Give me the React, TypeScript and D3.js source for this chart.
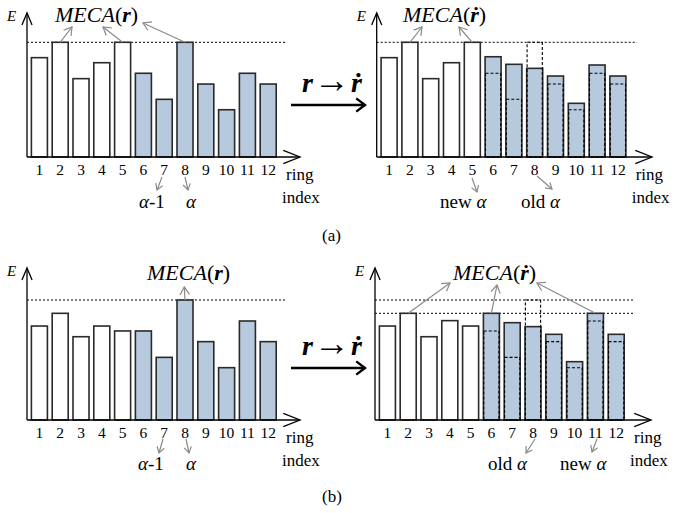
import React from 'react';
import { scaleBand, scaleLinear } from 'd3';

// ring indices on the x axis
const rings = [1, 2, 3, 4, 5, 6, 7, 8, 9, 10, 11, 12];

// energy per ring, 100 = MECA level of the old radius vector
const energyA = [86.6, 100, 68.3, 82.2, 100, 73, 50.3, 100, 63.6, 41.2, 73, 63.6];
const energyADot = [86.6, 100, 68.3, 82.2, 100, 87.4, 80.8, 77.3, 70.6, 46.8, 80.2, 70.6];
const energyB = [78.3, 88.9, 69.4, 78.3, 74.2, 74.2, 52.2, 100, 65.3, 43.6, 82.5, 65.3];
const energyBDot = [78.3, 88.9, 69.4, 82.8, 78.3, 88.9, 81.1, 77.8, 71.4, 48.6, 88.9, 71.4];

// rings that are shaded (from this index on)
const shadedFrom = 6;

const serif = 'Liberation Serif';
const GRAY = '#8a8a8a';
const BLUE = '#b7c9dc';

const Arrow = ({ x1, y1, x2, y2, color = GRAY, w = 1.2, head = 7, spread = 0.55 }) => {
  const a = Math.atan2(y2 - y1, x2 - x1);
  const p1 = [x2 - head * Math.cos(a - spread), y2 - head * Math.sin(a - spread)];
  const p2 = [x2 - head * Math.cos(a + spread), y2 - head * Math.sin(a + spread)];
  return (
    <g stroke={color} strokeWidth={w} fill="none">
      <line x1={x1} y1={y1} x2={x2} y2={y2} />
      <polyline points={`${p1[0]},${p1[1]} ${x2},${y2} ${p2[0]},${p2[1]}`} />
    </g>
  );
};

const Meca = ({ x, y, dot }) => (
  <text x={x} y={y} style={{ fontFamily: serif }} fontSize={22} fontStyle="italic">
    MECA
    <tspan fontStyle="normal">(</tspan>
    <tspan fontWeight="bold">{dot ? '\u1E59' : 'r'}</tspan>
    <tspan fontStyle="normal">)</tspan>
  </text>
);

const Panel = ({ ax, base, topY, axisTop, xEnd, lineEnd, values, oldValues, levels, meca, mecaFrom, mecaTo, dot }) => {
  const x = scaleBand()
    .domain(rings)
    .range([ax + 2, ax + 2 + 12 * 20.8])
    .paddingInner(0.23)
    .paddingOuter(0.115);
  const y = scaleLinear().domain([0, 100]).range([base, topY]);
  const bw = x.bandwidth();
  return (
    <g style={{ fontFamily: serif }}>
      {levels.map((v, i) => (
        <line key={i} x1={ax} x2={lineEnd} y1={y(v)} y2={y(v)} stroke="#000" strokeWidth={1} strokeDasharray="2,2" />
      ))}
      {rings.map((r, i) => (
        <rect
          key={r}
          x={x(r)}
          y={y(values[i])}
          width={bw}
          height={base - y(values[i])}
          fill={r >= shadedFrom ? BLUE : '#fff'}
          stroke="#2a2a2a"
          strokeWidth={1.6}
        />
      ))}
      {oldValues &&
        rings.map((r, i) =>
          r >= shadedFrom && oldValues[i] !== values[i] ? (
            <rect
              key={'o' + r}
              x={x(r) + 0.4}
              y={y(oldValues[i])}
              width={bw - 0.8}
              height={base - y(oldValues[i])}
              fill="none"
              stroke="#000"
              strokeWidth={1.1}
              strokeDasharray="3,2"
            />
          ) : null
        )}
      {/* axes */}
      <Arrow x1={ax} y1={base} x2={ax} y2={axisTop} color="#000" w={1.3} head={13} spread={0.4} />
      <Arrow x1={ax} y1={base} x2={xEnd} y2={base} color="#000" w={1.3} head={18} spread={0.38} />
      <text x={ax - 20} y={axisTop + 8} fontSize={15} fontStyle="italic">E</text>
      {rings.map((r) => (
        <text key={'t' + r} x={x(r) + bw / 2} y={base + 18} textAnchor="middle" fontSize={15.5}>
          {r}
        </text>
      ))}
      <text x={ax + 259} y={base + 23} fontSize={17}>ring</text>
      <text x={ax + 255} y={base + 46} fontSize={17}>index</text>
      <Meca x={meca[0]} y={meca[1]} dot={dot} />
      {mecaFrom.map((r, i) => (
        <Arrow key={'m' + r} x1={x(r) + bw / 2} y1={y(values[r - 1])} x2={mecaTo[i][0]} y2={mecaTo[i][1]} head={9} />
      ))}
    </g>
  );
};

const BigArrow = ({ dy }) => (
  <g>
    <text x={302} y={92 + dy} style={{ fontFamily: serif }} fontSize={28} fontWeight="bold" fontStyle="italic">
      r
      <tspan dx={1} fontStyle="normal" fontWeight="normal" fontSize={36}>{'\u2192'}</tspan>
      <tspan dx={1}>{'\u1E59'}</tspan>
    </text>
    <Arrow x1={291} y1={105 + dy} x2={365} y2={105 + dy} color="#000" w={2.4} head={11} spread={0.65} />
  </g>
);

const Label = ({ x, y, parts }) => (
  <text x={x} y={y} style={{ fontFamily: serif }} fontSize={19}>
    {parts.map((p, i) => (
      <tspan key={i} fontStyle={p.it ? 'italic' : 'normal'}>{p.t}</tspan>
    ))}
  </text>
);

export default function App() {
  return (
    <svg width={674} height={513} style={{ position: 'absolute', left: 0, top: 0, background: '#fff' }}>
      {/* (a) */}
      <Panel ax={27} base={157} topY={42.3} axisTop={13} xEnd={300} lineEnd={285}
        values={energyA} levels={[100]} meca={[55, 22]} mecaFrom={[2, 5, 8]}
        mecaTo={[[72, 27], [103, 27], [143, 23]]} />
      <Panel ax={376.7} base={157} topY={42.3} axisTop={13} xEnd={652} lineEnd={637}
        values={energyADot} oldValues={energyA} levels={[100]} meca={[403, 22]} dot mecaFrom={[2, 5]}
        mecaTo={[[422, 27], [459, 27]]} />
      <BigArrow dy={0} />
      <Arrow x1={162} y1={177} x2={157} y2={190} head={7} />
      <Arrow x1={185} y1={177} x2={188} y2={190} head={7} />
      <Label x={139} y={208} parts={[{ t: '\u03B1', it: true }, { t: '-1' }]} />
      <Label x={186} y={208} parts={[{ t: '\u03B1', it: true }]} />
      <Arrow x1={472} y1={178} x2={477} y2={192} head={7} />
      <Arrow x1={537} y1={176} x2={552} y2={189} head={7} />
      <Label x={440} y={208} parts={[{ t: 'new ' }, { t: '\u03B1', it: true }]} />
      <Label x={521} y={208} parts={[{ t: 'old ' }, { t: '\u03B1', it: true }]} />
      <text x={322} y={241} style={{ fontFamily: serif }} fontSize={17}>(a)</text>

      {/* (b) */}
      <Panel ax={27} base={420} topY={300} axisTop={268} xEnd={300} lineEnd={285}
        values={energyB} levels={[100]} meca={[147, 280]} mecaFrom={[8]}
        mecaTo={[[184.3, 287]]} />
      <Panel ax={375} base={420} topY={300} axisTop={268} xEnd={651} lineEnd={633}
        values={energyBDot} oldValues={energyB} levels={[100, 88.9]} meca={[453, 280]} dot mecaFrom={[2, 6, 11]}
        mecaTo={[[450, 283], [497, 285], [537, 283]]} />
      <BigArrow dy={263} />
      <Arrow x1={163} y1={439} x2={159} y2={453} head={7} />
      <Arrow x1={186} y1={439} x2={189} y2={453} head={7} />
      <Label x={138} y={470} parts={[{ t: '\u03B1', it: true }, { t: '-1' }]} />
      <Label x={186} y={470} parts={[{ t: '\u03B1', it: true }]} />
      <Arrow x1={535} y1={439} x2={526} y2={453} head={7} />
      <Arrow x1={597} y1={439} x2={592} y2={452} head={7} />
      <Label x={488} y={470} parts={[{ t: 'old ' }, { t: '\u03B1', it: true }]} />
      <Label x={560} y={470} parts={[{ t: 'new ' }, { t: '\u03B1', it: true }]} />
      <text x={322} y={502} style={{ fontFamily: serif }} fontSize={17}>(b)</text>
    </svg>
  );
}
